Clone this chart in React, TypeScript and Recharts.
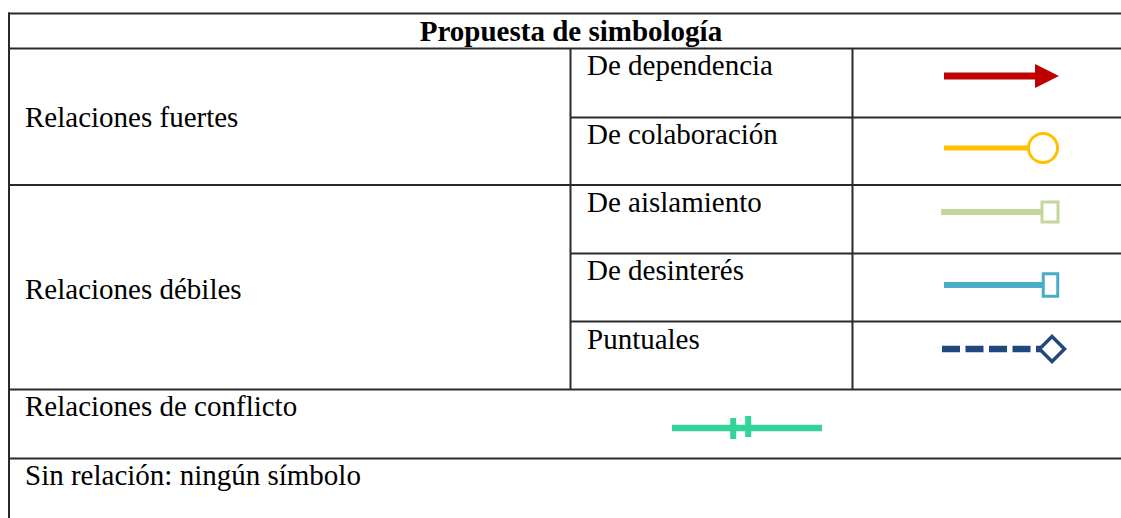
import React from "react";
import { LineChart, Line, XAxis, YAxis } from "recharts";

// table texts
const TITLE = "Propuesta de simbología";
const GROUP_LABELS = ["Relaciones fuertes", "Relaciones débiles"];
const SUBTYPE_LABELS = [
  "De dependencia",
  "De colaboración",
  "De aislamiento",
  "De desinterés",
  "Puntuales",
];
const FOOTER_LABELS = ["Relaciones de conflicto", "Sin relación: ningún símbolo"];

// one symbol per relation type (the last one is the conflict row)
const SYMBOL_MARKERS = ["arrow", "circle", "square", "tallSquare", "diamond", "bars"];
const SYMBOL_COLORS = ["#C00000", "#FFC000", "#C3D69B", "#4BACC6", "#1F497D", "#33D49A"];
// x positions along each symbol's line, 0 = start, 1 = end; the marker sits on point index 1
const SYMBOL_POINTS = [
  [0, 1],
  [0, 1],
  [0, 1],
  [0, 1],
  [0, 1],
  [0, 0.458, 1],
];

const W = 1121;
const H = 518;
const FONT = "Liberation Serif, Tinos, Times New Roman, DejaVu Serif, serif";
const LINE_COLOR = "#2a2a2a";
const TABLE_RIGHT = 1132;

// where each symbol is placed in its cell
const SYMBOL_LAYOUT = [
  { left: 944, cy: 76, len: 91, pad: 30, sw: 7 },
  { left: 944, cy: 147.5, len: 99, pad: 22, sw: 5 },
  { left: 941, cy: 211.5, len: 109, pad: 16, sw: 6 },
  { left: 944, cy: 285, len: 106.5, pad: 16, sw: 6 },
  { left: 942, cy: 349, len: 110, pad: 20, sw: 6.5, dash: "18 5.5" },
  { left: 672, cy: 428, len: 150, pad: 0, sw: 6.5 },
];

function makeMarker(kind: string, color: string) {
  return (props: any) => {
    const { cx, cy, index } = props;
    if (index !== 1 || cx == null || cy == null) return <g key={`m-${index}`} />;
    switch (kind) {
      case "arrow":
        return (
          <polygon
            key="m"
            points={`${cx},${cy - 12} ${cx + 24},${cy} ${cx},${cy + 12}`}
            fill={color}
          />
        );
      case "circle":
        return <circle key="m" cx={cx} cy={cy} r={14.5} fill="#fff" stroke={color} strokeWidth={3} />;
      case "square":
        return (
          <rect key="m" x={cx - 8} y={cy - 10} width={16} height={20} fill="#fff" stroke={color} strokeWidth={3} />
        );
      case "tallSquare":
        return (
          <rect key="m" x={cx - 7.25} y={cy - 11.25} width={14.5} height={22.5} fill="#fff" stroke={color} strokeWidth={3} />
        );
      case "diamond":
        return (
          <polygon
            key="m"
            points={`${cx - 12.5},${cy} ${cx},${cy - 12.5} ${cx + 12.5},${cy} ${cx},${cy + 12.5}`}
            fill="#fff"
            stroke={color}
            strokeWidth={3.5}
          />
        );
      default:
        return (
          <g key="m">
            <rect x={cx - 10.5} y={cy - 10} width={6} height={21} fill={color} />
            <rect x={cx + 4.5} y={cy - 12} width={6} height={21} fill={color} />
          </g>
        );
    }
  };
}

function SymbolChart({ i }: { i: number }) {
  const lay = SYMBOL_LAYOUT[i];
  const data = SYMBOL_POINTS[i].map((x) => ({ x, y: 0 }));
  const h = 50;
  return (
    <div style={{ position: "absolute", left: lay.left, top: lay.cy - h / 2 }}>
      <LineChart
        width={lay.len + lay.pad}
        height={h}
        data={data}
        margin={{ top: 0, right: lay.pad, bottom: 0, left: 0 }}
        style={{ overflow: "visible" }}
      >
        <XAxis type="number" dataKey="x" domain={[0, 1]} hide height={0} />
        <YAxis type="number" domain={[-1, 1]} hide width={0} />
        <Line
          type="linear"
          dataKey="y"
          stroke={SYMBOL_COLORS[i]}
          strokeWidth={lay.sw}
          strokeDasharray={lay.dash}
          dot={makeMarker(SYMBOL_MARKERS[i], SYMBOL_COLORS[i])}
          activeDot={false}
          isAnimationActive={false}
        />
      </LineChart>
    </div>
  );
}

export default function App() {
  const fullRows = [13.5, 48.5, 185, 389.5, 458.5];
  const innerRows = [117.5, 253.5, 321.5];
  const subBaselines = [75, 144, 212, 280, 349];
  const textStyle: React.CSSProperties = { fontFamily: FONT, fontSize: 29, fill: "#000" };

  return (
    <div
      style={{
        position: "fixed",
        left: 0,
        top: 0,
        width: W,
        height: H,
        background: "#fff",
        overflow: "hidden",
        fontFamily: FONT,
      }}
    >
      <svg width={W} height={H} style={{ position: "absolute", left: 0, top: 0 }}>
        {fullRows.map((y) => (
          <line key={`r${y}`} x1={8} x2={TABLE_RIGHT} y1={y} y2={y} stroke={LINE_COLOR} strokeWidth={2} />
        ))}
        {innerRows.map((y) => (
          <line key={`i${y}`} x1={570} x2={TABLE_RIGHT} y1={y} y2={y} stroke={LINE_COLOR} strokeWidth={2} />
        ))}
        <line x1={9} x2={9} y1={12.5} y2={H} stroke={LINE_COLOR} strokeWidth={2} />
        <line x1={570.5} x2={570.5} y1={48.5} y2={389.5} stroke={LINE_COLOR} strokeWidth={2} />
        <line x1={852.5} x2={852.5} y1={48.5} y2={389.5} stroke={LINE_COLOR} strokeWidth={2} />

        <text x={571} y={41} textAnchor="middle" style={{ ...textStyle, fontWeight: "bold" }}>
          {TITLE}
        </text>
        <text x={25} y={127} style={textStyle}>
          {GROUP_LABELS[0]}
        </text>
        <text x={25} y={299} style={textStyle}>
          {GROUP_LABELS[1]}
        </text>
        {SUBTYPE_LABELS.map((s, i) => (
          <text key={s} x={587} y={subBaselines[i]} style={textStyle}>
            {s}
          </text>
        ))}
        <text x={25} y={416} style={textStyle}>
          {FOOTER_LABELS[0]}
        </text>
        <text x={25} y={485} style={textStyle}>
          {FOOTER_LABELS[1]}
        </text>
      </svg>
      {SYMBOL_MARKERS.map((_, i) => (
        <SymbolChart key={i} i={i} />
      ))}
    </div>
  );
}
